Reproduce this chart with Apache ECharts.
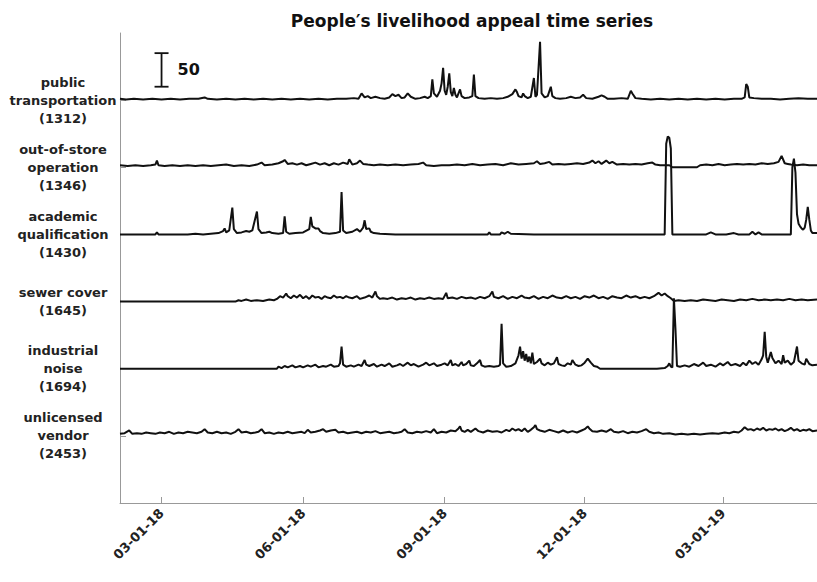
<!DOCTYPE html>
<html>
<head>
<meta charset="utf-8">
<script src="https://cdn.jsdelivr.net/npm/echarts@6/dist/echarts.min.js"></script>
<style>
  html, body { margin: 0; padding: 0; background: #fff; }
  #chart { width: 817px; height: 582px; }
</style>
</head>
<body>
<div id="chart"></div>
<script>
// days counted from 2018-02-01 (day 0)
const tickDays = [28, 120, 212, 303, 393];
const tickLabels = ['03-01-18', '06-01-18', '09-01-18', '12-01-18', '03-01-19'];

const categoryNames = [
  'public\ntransportation\n(1312)',
  'out-of-store\noperation\n(1346)',
  'academic\nqualification\n(1430)',
  'sewer cover\n(1645)',
  'industrial\nnoise\n(1694)',
  'unlicensed\nvendor\n(2453)'
];
// vertical offset of each trace (y units)
const offsets = [600, 500, 400, 300, 200, 100];

// [day, count]
const transportData = [[1,2],[5,1],[10,2],[16,1],[22,2],[28,1],[34,2],[40,1],[46,2],[52,2],[56,4],[58,2],[64,1],[70,2],[76,1],[82,2],[88,1],[94,2],[100,1],[106,2],[112,1],[118,2],[124,1],[130,2],[136,1],[142,2],[148,2],[153,3],[156,2],[158,10],[160,4],[162,6],[164,3],[167,5],[170,3],[173,2],[176,4],[178,9],[180,6],[182,8],[184,3],[186,4],[188,10],[190,5],[193,2],[196,3],[199,5],[201,3],[203,6],[204,31],[205,10],[207,5],[209,14],[210,25],[211,48],[212,14],[213,8],[214,20],[215,40],[216,12],[217,6],[218,18],[219,8],[220,4],[222,16],[223,6],[225,3],[228,4],[230,6],[231,38],[232,6],[234,3],[238,2],[242,3],[246,2],[250,3],[253,5],[256,9],[258,16],[259,12],[260,6],[262,4],[263,10],[264,6],[266,3],[268,5],[270,33],[271,5],[272,8],[274,87],[275,10],[277,4],[279,6],[281,20],[282,6],[284,3],[287,2],[291,3],[294,5],[297,3],[300,4],[302,8],[304,3],[308,2],[312,5],[314,7],[316,5],[318,2],[322,2],[327,3],[331,2],[333,14],[334,10],[336,3],[340,2],[346,1],[352,2],[358,1],[364,2],[370,1],[376,2],[382,1],[388,2],[394,1],[400,2],[405,2],[407,4],[408,24],[409,20],[410,4],[413,3],[418,2],[424,2],[430,1],[436,2],[442,3],[448,2],[454,2]];

const storeData = [[1,3],[6,2],[11,3],[16,2],[21,3],[24,4],[25,10],[26,3],[30,2],[35,3],[40,2],[45,3],[50,2],[55,3],[60,2],[65,3],[70,4],[75,2],[80,3],[85,2],[90,4],[93,7],[95,3],[100,4],[104,6],[107,9],[108,11],[110,5],[113,6],[116,4],[119,6],[122,3],[125,5],[128,7],[131,4],[134,6],[137,3],[140,6],[143,4],[146,7],[149,5],[150,12],[152,4],[155,6],[157,10],[159,5],[162,4],[166,3],[170,4],[175,3],[180,4],[185,3],[190,4],[195,5],[198,7],[200,3],[205,2],[210,3],[215,3],[220,4],[225,3],[230,5],[235,3],[240,4],[245,5],[250,3],[255,6],[260,4],[265,5],[270,6],[272,9],[274,5],[277,6],[280,8],[282,4],[286,5],[290,4],[294,5],[298,6],[302,5],[306,7],[308,10],[310,6],[312,9],[314,5],[317,10],[319,6],[321,8],[324,4],[328,5],[332,4],[336,5],[340,4],[344,6],[347,7],[349,4],[352,3],[355,3],[358,3],[360,0],[376,0],[378,3],[382,4],[386,3],[390,5],[394,3],[398,4],[402,5],[406,4],[410,5],[414,4],[418,6],[422,5],[426,6],[429,8],[431,17],[433,6],[435,5],[437,4],[441,3],[445,4],[449,3],[454,3]];

const academicData = [[1,0],[20,0],[24,0],[25,3],[26,0],[45,0],[50,1],[55,0],[60,1],[65,2],[68,5],[69,9],[70,3],[72,6],[74,40],[75,8],[77,2],[80,3],[83,5],[85,4],[87,6],[90,34],[91,8],[93,2],[96,3],[98,4],[100,2],[104,1],[107,2],[108,27],[109,4],[111,1],[115,2],[120,3],[124,8],[125,26],[126,12],[128,9],[130,9],[131,5],[133,2],[137,1],[141,2],[144,4],[145,63],[146,6],[148,2],[152,4],[155,8],[157,4],[159,10],[160,21],[161,8],[163,9],[164,4],[166,2],[170,1],[180,0],[200,0],[240,0],[241,3],[242,0],[248,0],[249,3],[251,1],[253,4],[255,1],[270,0],[300,0],[355,0],[356,135],[357,146],[358,144],[359,128],[360,0],[382,0],[385,3],[388,0],[395,0],[400,2],[403,0],[410,0],[412,4],[414,0],[416,3],[418,0],[437,0],[438,100],[439,113],[440,92],[441,30],[442,16],[443,12],[444,9],[445,7],[446,10],[447,22],[448,41],[449,22],[450,6],[451,2],[454,2]];

const sewerData = [[1,0],[30,0],[60,0],[76,0],[78,2],[80,1],[83,3],[86,1],[90,2],[94,1],[98,3],[101,2],[103,4],[105,8],[107,6],[109,12],[110,8],[112,5],[114,9],[116,6],[118,10],[120,5],[122,8],[124,4],[126,9],[128,6],[130,7],[132,4],[134,8],[136,6],[138,5],[140,9],[142,6],[144,7],[146,5],[148,8],[150,6],[152,5],[155,8],[157,4],[160,6],[163,9],[165,6],[167,15],[168,8],[170,4],[172,5],[175,4],[178,6],[181,3],[184,5],[187,4],[190,6],[193,3],[196,5],[199,4],[202,6],[205,4],[208,5],[211,4],[213,13],[214,5],[217,6],[220,4],[223,7],[226,5],[229,6],[232,4],[235,7],[238,5],[241,8],[243,15],[244,7],[247,5],[250,8],[253,4],[256,7],[259,5],[262,9],[264,6],[267,5],[270,8],[273,4],[276,7],[279,5],[282,9],[285,6],[288,5],[291,8],[294,5],[297,7],[300,4],[303,8],[306,6],[309,9],[312,5],[315,7],[318,4],[321,8],[324,6],[327,5],[330,9],[333,6],[336,8],[339,5],[342,7],[345,5],[348,8],[351,13],[353,9],[355,12],[357,8],[359,5],[361,1],[364,2],[368,1],[372,2],[376,1],[380,3],[384,2],[388,1],[392,3],[396,2],[400,1],[404,3],[408,2],[412,4],[416,2],[420,3],[424,2],[428,3],[432,2],[436,4],[440,2],[444,3],[448,2],[454,3]];

const noiseData = [[1,0],[50,0],[103,0],[104,3],[106,1],[108,4],[110,2],[113,5],[115,2],[118,4],[120,2],[123,5],[125,3],[128,6],[130,2],[133,4],[135,3],[138,6],[140,3],[143,4],[144,8],[145,33],[146,6],[148,3],[151,5],[153,3],[156,6],[158,4],[160,13],[161,6],[163,4],[166,7],[168,3],[171,6],[173,4],[176,8],[178,3],[181,5],[183,7],[185,4],[188,9],[190,5],[192,7],[195,3],[198,6],[200,9],[202,5],[205,8],[207,4],[210,6],[212,8],[214,5],[216,13],[217,5],[219,7],[221,4],[223,10],[224,5],[226,7],[228,12],[229,5],[231,4],[233,8],[235,13],[236,5],[238,3],[241,4],[244,3],[247,4],[248,6],[249,67],[250,8],[252,3],[255,4],[258,8],[260,20],[261,33],[262,15],[263,26],[264,12],[265,22],[266,10],[267,18],[268,8],[269,24],[270,7],[272,10],[274,15],[275,8],[277,5],[279,9],[281,6],[283,8],[285,17],[286,7],[288,5],[290,4],[292,8],[294,6],[295,13],[297,6],[299,4],[301,5],[303,9],[305,15],[307,9],[309,4],[311,3],[313,0],[350,0],[355,1],[357,4],[358,8],[359,3],[360,2],[361,105],[362,60],[363,4],[365,3],[368,5],[371,3],[374,7],[377,4],[380,9],[382,4],[385,6],[388,3],[391,8],[393,5],[396,10],[398,5],[401,7],[404,4],[406,9],[408,5],[410,12],[412,7],[414,10],[416,6],[418,14],[419,20],[420,55],[421,18],[422,9],[424,25],[425,16],[427,8],[429,12],[431,7],[432,20],[433,9],[435,12],[437,6],[439,10],[441,33],[442,12],[444,8],[446,6],[447,15],[449,7],[451,5],[454,6]];

const vendorData = [[1,3],[4,4],[7,8],[9,3],[12,4],[15,3],[18,5],[21,4],[24,3],[27,5],[30,4],[33,6],[36,3],[39,5],[42,4],[45,6],[48,5],[51,4],[54,6],[56,10],[58,5],[61,4],[64,6],[67,4],[70,5],[73,3],[76,6],[78,10],[80,5],[83,6],[86,4],[89,5],[91,6],[93,10],[95,4],[98,5],[101,3],[104,5],[107,4],[110,6],[113,4],[116,5],[119,6],[121,4],[123,9],[125,5],[128,6],[131,8],[133,10],[135,6],[138,8],[141,9],[143,5],[146,6],[149,4],[152,5],[155,6],[158,4],[161,6],[164,5],[167,7],[170,4],[173,5],[176,6],[179,4],[182,5],[184,6],[186,10],[188,5],[191,4],[194,6],[197,5],[200,7],[203,5],[205,10],[207,4],[210,6],[213,5],[216,8],[219,7],[221,11],[222,14],[223,8],[225,6],[227,9],[229,6],[232,11],[234,7],[237,5],[240,8],[243,6],[246,7],[249,5],[252,9],[254,7],[256,11],[258,8],[260,10],[262,7],[264,11],[266,6],[268,9],[270,13],[271,16],[272,10],[274,8],[277,6],[280,9],[283,7],[286,5],[289,8],[292,5],[295,7],[298,5],[301,8],[303,10],[305,14],[306,11],[308,7],[311,6],[314,8],[317,6],[320,10],[322,6],[325,5],[328,7],[331,4],[334,6],[337,5],[340,7],[343,10],[345,6],[348,4],[351,5],[354,3],[358,4],[362,2],[366,3],[370,2],[374,3],[378,2],[382,3],[386,4],[390,3],[394,5],[397,4],[400,6],[403,5],[405,8],[407,13],[409,9],[411,10],[413,8],[415,11],[417,9],[419,12],[421,8],[423,10],[425,9],[427,11],[429,8],[431,10],[433,7],[435,9],[437,12],[439,8],[441,10],[443,7],[445,9],[447,8],[449,10],[451,7],[454,8]];

const allSeries = [transportData, storeData, academicData, sewerData, noiseData, vendorData];

// scale bar: 50 counts, drawn at day 28 from 620 to 670
const scaleBar = { day: 28, from: 620, to: 670, label: '50' };

const chart = echarts.init(document.getElementById('chart'), null, { renderer: 'svg' });

const series = allSeries.map((d, i) => ({
  type: 'line',
  data: d.map(p => [p[0], p[1] + offsets[i]]),
  showSymbol: false,
  symbol: 'none',
  lineStyle: { color: '#111', width: 2 },
  silent: true
}));

series.push({
  type: 'custom',
  silent: true,
  data: [[scaleBar.day, scaleBar.from, scaleBar.to]],
  renderItem: function (params, api) {
    const lo = api.coord([api.value(0), api.value(1)]);
    const hi = api.coord([api.value(0), api.value(2)]);
    const st = { stroke: '#111', lineWidth: 1.8 };
    return {
      type: 'group',
      children: [
        { type: 'line', shape: { x1: lo[0], y1: lo[1], x2: hi[0], y2: hi[1] }, style: st },
        { type: 'line', shape: { x1: lo[0] - 7, y1: lo[1], x2: lo[0] + 7, y2: lo[1] }, style: st },
        { type: 'line', shape: { x1: hi[0] - 7, y1: hi[1], x2: hi[0] + 7, y2: hi[1] }, style: st },
        {
          type: 'text',
          style: {
            x: lo[0] + 16, y: (lo[1] + hi[1]) / 2,
            text: scaleBar.label,
            fill: '#111',
            font: 'bold 16px "DejaVu Sans"',
            verticalAlign: 'middle'
          }
        }
      ]
    };
  }
});

const option = {
  animation: false,
  title: {
    text: 'People\u2032s livelihood appeal time series',
    left: 467,
    top: 7,
    textAlign: 'center',
    textStyle: { fontFamily: 'DejaVu Sans', fontWeight: 'bold', fontSize: 17, color: '#111' }
  },
  grid: { left: 120, right: 0, top: 33, bottom: 79, outerBoundsMode: 'none' },
  xAxis: {
    type: 'value',
    min: 1,
    max: 454,
    axisLine: { lineStyle: { color: '#999' } },
    axisTick: { inside: true, length: 6, customValues: tickDays, lineStyle: { color: '#999' } },
    splitLine: { show: false },
    axisLabel: {
      customValues: tickDays,
      rotate: 45,
      margin: 8,
      fontFamily: 'DejaVu Sans',
      fontWeight: 'bold',
      fontSize: 13,
      color: '#222',
      formatter: v => tickLabels[tickDays.indexOf(v)] || ''
    }
  },
  yAxis: {
    type: 'value',
    min: 0,
    max: 700,
    axisLine: { show: true, lineStyle: { color: '#999' } },
    axisTick: { show: true, inside: true, length: 6, customValues: offsets, lineStyle: { color: '#999' } },
    splitLine: { show: false },
    axisLabel: {
      customValues: offsets,
      align: 'center',
      margin: 57,
      fontFamily: 'DejaVu Sans',
      fontWeight: 'bold',
      fontSize: 13,
      lineHeight: 18,
      color: '#222',
      formatter: v => categoryNames[offsets.indexOf(v)] || ''
    }
  },
  series: series
};

chart.setOption(option);
</script>
</body>
</html>
